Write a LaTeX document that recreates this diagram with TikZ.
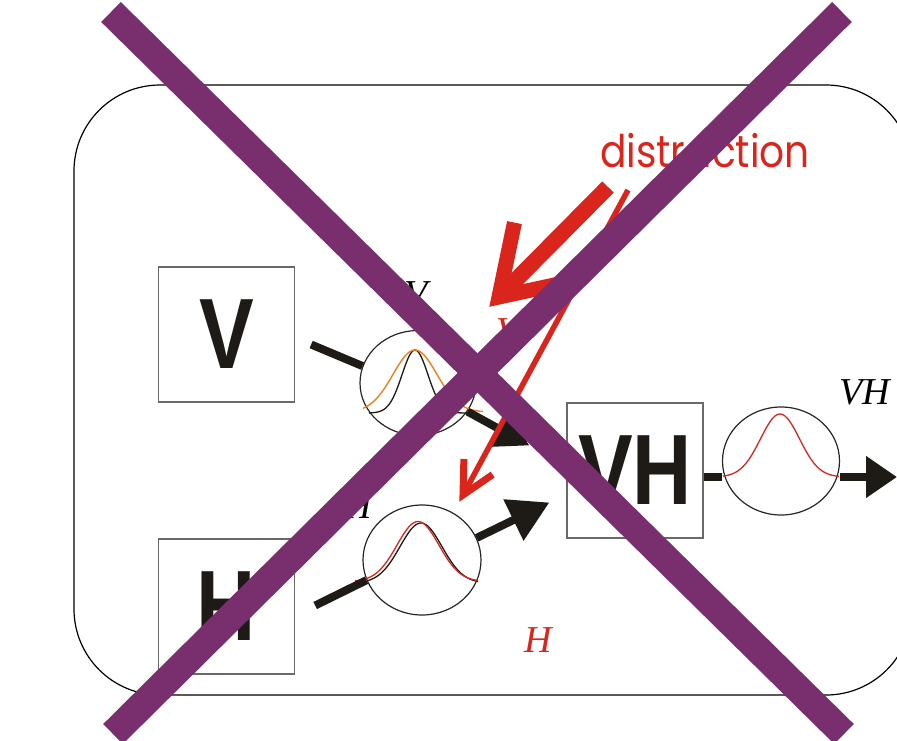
\documentclass[tikz,border=0pt]{standalone}
\usepackage{fontspec}
\setmainfont{Liberation Serif}
\setsansfont{Liberation Sans}
\newfontfamily\gothfont{Poppins}
\usetikzlibrary{arrows.meta,calc,positioning,shapes.geometric}
\definecolor{CrossPurple}{RGB}{121,46,109}
\definecolor{CueRed}{RGB}{218,37,29}
\definecolor{CueOrange}{RGB}{238,128,28}
\definecolor{FrameGray}{RGB}{105,105,105}
\definecolor{InkBlack}{RGB}{30,26,22}

\begin{document}
\begin{tikzpicture}[x=1pt,y=-1pt,
  cuebox/.style={draw=FrameGray,line width=1.3pt,minimum width=136pt,minimum height=135pt,inner sep=0pt,text=InkBlack,font=\sffamily\bfseries\fontsize{100}{100}\selectfont},
  tuning/.style={ellipse,draw=black!85,line width=1.2pt,inner sep=0pt},
  feed/.style={InkBlack,line width=8pt},
  cuelbl/.style={font=\itshape\fontsize{38}{38}\selectfont},
  bigred/.style={CueRed,line width=16pt,miter limit=10}]
\useasboundingbox (0,0) rectangle (897,740);
\clip (0,0) rectangle (897,740);
\draw[line width=1.2pt,rounded corners=86pt] (74,85) rectangle (912,695);
% stimulus boxes and tuning curves
\node[cuebox] (vbox) at (226.5,334.5) {\scalebox{.82}[1]{V}};
\node[cuebox] (hbox) at (226.5,606.5) {\scalebox{.82}[1]{H}};
\node[cuebox] (vhbox) at (635,470.5) {\scalebox{.82}[1]{VH}};
\node[tuning,minimum width=116pt,minimum height=105pt] (vcirc) at (418,383) {};
\node[tuning,minimum width=118pt,minimum height=110pt] (hcirc) at (422,560) {};
\node[tuning,minimum width=117pt,minimum height=108pt] (vhcirc) at (781,461) {};
\draw[InkBlack,line width=1.3pt] plot[domain=-46:52,samples=70] ({415+\x},{413-63*exp(-((\x)^2)/338)});
\draw[CueOrange,line width=1.4pt] plot[domain=-52:68,samples=70] ({415+\x},{412-62*exp(-((\x)^2)/968)});
\draw[InkBlack,line width=1.3pt] plot[domain=-53:57,samples=70] ({421+\x},{583-60*exp(-((\x)^2)/882)});
\draw[CueRed,line width=1.3pt] plot[domain=-63:60,samples=70] ({418+\x},{581.5-60*exp(-((\x)^2)/882)});
\draw[CueRed,line width=1.3pt] plot[domain=-57:59,samples=70] ({780+\x},{477-63*exp(-((\x)^2)/760)});
% feed-forward arrows
\coordinate (vhout) at ([yshift=-6.5pt]vhbox.east);
\coordinate (exit) at (897,477);
\draw[feed] ([shift={(16,10)}]vbox.east) -- (vcirc.163);
\draw[feed,-{Triangle[length=34pt,width=38pt]}] (vcirc.-30) -- ([shift={(-37,-25)}]vhbox.west);
\draw[feed] ([shift={(20,-1)}]hbox.east) -- (hcirc.-160);
\draw[feed,-{Triangle[length=40pt,width=44pt]}] (hcirc.22) -- ([shift={(-17,32)}]vhbox.west);
\draw[feed] (vhout) -- (vhout -| vhcirc.west);
\draw[feed,-{Triangle[length=31pt,width=40pt]}] (vhout -| vhcirc.east) -- (exit);
% distraction
\node[text=CueRed,font=\gothfont\fontsize{45}{45}\selectfont] (distr) at (705,151) {\scalebox{.87}[1]{distraction}};
\coordinate (bigtail) at (608,187);
\coordinate (bigtip) at (499,297);
\draw[bigred] (bigtail) -- (bigtip);
\draw[bigred,line width=15pt] ($(bigtip)!76pt!33:(bigtail)$) -- (bigtip) -- ($(bigtip)!76pt!-33:(bigtail)$);
\coordinate (thintail) at (628,190);
\coordinate (thintip) at (463,495);
\draw[CueRed,line width=5.5pt] (thintail) -- (thintip);
\draw[CueRed,line width=7pt,miter limit=10] ($(thintip)!36pt!27:(thintail)$) -- (thintip) -- ($(thintip)!36pt!-27:(thintail)$);
% labels
\node[cuelbl] (vlbl) at (416,294) {V};
\node[cuelbl,text=CueRed] (vdlbl) at (508,331) {V};
\node[cuelbl] (hlbl) at (358,506) {H};
\node[cuelbl,text=CueRed] (hdlbl) at (538,640.5) {H};
\node[cuelbl] (vhlbl) at (865,392.5) {VH};
% the cross
\foreach \a/\b in {111/12,842/12}{\draw[CrossPurple,line width=28pt] (\a,\b) -- ({955-\a},{\b+722});}
\end{tikzpicture}
\end{document}
